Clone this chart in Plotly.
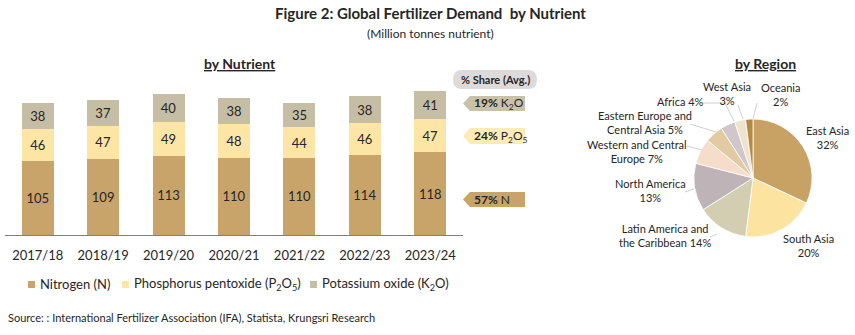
import plotly.graph_objects as go

W, H = 855, 335
FONT = "Lato"
TXT = "#262626"

# ---- data ----
years = ["2017/18", "2018/19", "2019/20", "2020/21", "2021/22", "2022/23", "2023/24"]
nitrogen = [105, 109, 113, 110, 110, 114, 118]
phosphorus = [46, 47, 49, 48, 44, 46, 47]
potassium = [38, 37, 40, 38, 35, 38, 41]
series_names = ["Nitrogen (N)", "Phosphorus pentoxide (P<sub>2</sub>O<sub>5</sub>)",
                "Potassium oxide (K<sub>2</sub>O)"]

regions = ["East Asia", "South Asia", "Latin America and the Caribbean", "North America",
           "Western and Central Europe", "Eastern Europe and Central Asia", "Africa",
           "West Asia", "Oceania"]
region_share = [32, 20, 14, 13, 7, 5, 4, 3, 2]
region_text = ["East Asia<br>32%", "South Asia<br>20%", "Latin America and<br>the Caribbean 14%",
               "North America<br>13%", "Western and Central<br>Europe 7%",
               "Eastern Europe and<br>Central Asia 5%", "Africa 4%", "West Asia<br>3%", "Oceania<br>2%"]

share_labels = ["<b>19%</b> K<sub>2</sub>O", "<b>24%</b> P<sub>2</sub>O<sub>5</sub>", "<b>57%</b> N"]

C_N, C_P, C_K = "#C8A46A", "#FDE5A6", "#C6BEA4"
pie_colors = ["#C8A165", "#FCE4A0", "#D3CDB1", "#BEB3B6", "#F6DCCB", "#E2CBA3", "#D0C7CA", "#EEE3CF", "#B48A43"]


def px(x):
    return x / W


def py(y):
    return 1 - y / H


fig = go.Figure()
for name, vals, col in zip(series_names, [nitrogen, phosphorus, potassium], [C_N, C_P, C_K]):
    fig.add_trace(go.Bar(x=years, y=vals, name=name, marker=dict(color=col, line=dict(width=0)),
                         width=0.49, text=vals, texttemplate="%{text}", textposition="inside",
                         insidetextanchor="middle", textangle=0, constraintext="none", showlegend=False,
                         textfont=dict(size=13, color=TXT, family=FONT)))

fig.add_trace(go.Pie(labels=regions, values=region_share, sort=False, direction="clockwise",
                     rotation=0, textinfo="none", showlegend=False,
                     marker=dict(colors=pie_colors, line=dict(color="white", width=0.8)),
                     domain=dict(x=[px(694), px(812)], y=[py(237), py(119)])))

ann = []
shapes = []


def text(x, y, s, size=11, bold=False, xanchor="center", color=TXT, underline=False):
    if underline:
        s = "<u>" + s + "</u>"
    if bold:
        s = "<b>" + s + "</b>"
    ann.append(dict(x=px(x), y=py(y), xref="paper", yref="paper", text=s, showarrow=False,
                    xanchor=xanchor, yanchor="middle", font=dict(size=size, color=color, family=FONT)))


text(430, 13, "Figure 2: Global Fertilizer Demand  by Nutrient", size=15, bold=True)
text(430, 33, "(Million tonnes nutrient)", size=12)
text(240, 64, "by Nutrient", size=14, bold=True, underline=True)
text(765, 63, "by Region", size=14, bold=True, underline=True)
text(6, 317, "Source: : International Fertilizer Association (IFA), Statista, Krungsri Research",
     size=11, xanchor="left")

# custom legend
leg_x = [28, 122, 310]
for name, col, x in zip(series_names, [C_N, C_P, C_K], leg_x):
    shapes.append(dict(type="rect", xref="paper", yref="paper", x0=px(x), x1=px(x + 7),
                       y0=py(288), y1=py(281), fillcolor=col, line=dict(width=0)))
    text(x + 10, 284, name, size=13, xanchor="left")

# share pill
shapes.append(dict(type="path", xref="paper", yref="paper",
                   path=f"M {px(462)},{py(70)} L {px(528)},{py(70)} Q {px(537)},{py(70)} {px(537)},{py(79.5)} "
                        f"Q {px(537)},{py(89)} {px(528)},{py(89)} L {px(462)},{py(89)} "
                        f"Q {px(453)},{py(89)} {px(453)},{py(79.5)} Q {px(453)},{py(70)} {px(462)},{py(70)} Z",
                   fillcolor="#DDDADA", line=dict(width=0)))
text(495, 79.5, "% Share (Avg.)", size=11, bold=True)

box_cols = ["#C9C2A9", "#FFEBB5", C_N]
box_y = [(96, 111), (128, 144), (192, 207)]
for lab, col, (y0, y1) in zip(share_labels, box_cols, box_y):
    ym = (y0 + y1) / 2
    shapes.append(dict(type="path", xref="paper", yref="paper",
                       path=f"M {px(463)},{py(ym)} L {px(470)},{py(y0)} L {px(525)},{py(y0)} "
                            f"L {px(525)},{py(y1)} L {px(470)},{py(y1)} Z",
                       fillcolor=col, line=dict(width=0)))
    text(472, ym, lab, size=12, xanchor="left")

# pie labels
pie_pos = [(827, 137), (808, 245), (665, 236), (650, 190), (637, 151), (645, 122), (680, 101), (727, 93), (780, 94)]
for s, (x, y) in zip(region_text, pie_pos):
    text(x, y, s, size=11)

leaders = [
    [(738, 105), (743, 119)],
    [(757, 103), (753, 119)],
    [(703, 103), (725, 103), (734, 121)],
    [(690, 124), (716, 132)],
    [(687, 146), (702, 150)],
    [(685, 192), (694, 189)],
    [(710, 237), (717, 234)],
]
for pts in leaders:
    for (x0, y0), (x1, y1) in zip(pts[:-1], pts[1:]):
        shapes.append(dict(type="line", xref="paper", yref="paper", x0=px(x0), y0=py(y0),
                           x1=px(x1), y1=py(y1), line=dict(color="#D0D0D0", width=1)))

fig.update_layout(
    width=W, height=H, margin=dict(l=0, r=0, t=0, b=0),
    paper_bgcolor="white", plot_bgcolor="white",
    barmode="stack", bargap=0.5, showlegend=False,
    font=dict(family=FONT, color=TXT),
    xaxis=dict(domain=[px(5), px(463)], range=[-0.5, 6.5], showgrid=False, showline=True,
               linecolor="#7F7F7F", linewidth=1, ticks="outside", ticklen=8, tickcolor="rgba(0,0,0,0)",
               tickfont=dict(size=13, color=TXT, family=FONT), fixedrange=True),
    yaxis=dict(domain=[py(235), py(80)], range=[0, 221.4], visible=False, showgrid=False, fixedrange=True),
    annotations=ann, shapes=shapes,
)

fig.write_html("out.html")
